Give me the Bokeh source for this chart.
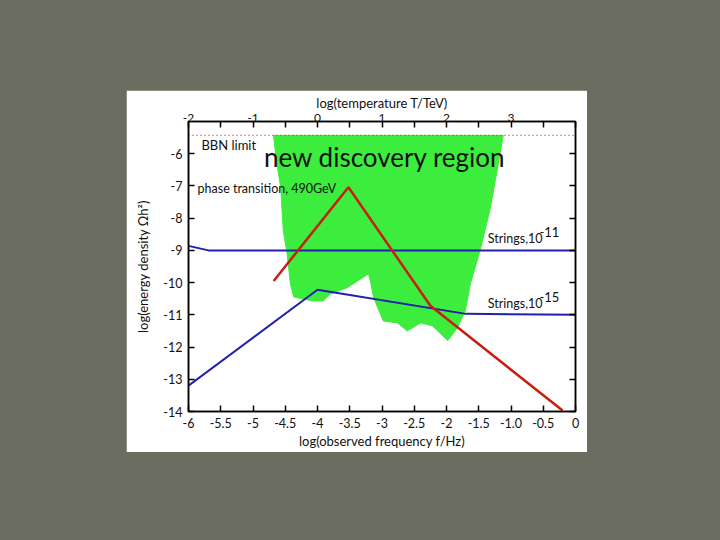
from bokeh.plotting import figure
from bokeh.models import Range1d, LinearAxis, FixedTicker, Label
from bokeh.layouts import column
from bokeh.embed import file_html
from bokeh.resources import INLINE

# ---- data ----
freq_ticks = [-6, -5.5, -5, -4.5, -4, -3.5, -3, -2.5, -2, -1.5, -1, -0.5, 0]
freq_tick_labels = ["-6", "-5.5", "-5", "-4.5", "-4", "-3.5", "-3", "-2.5", "-2",
                    "-1.5", "-1.0", "-0.5", "0"]
temp_ticks = [-2, -1, 0, 1, 2, 3]
temp_tick_labels = ["-2", "-1", "0", "1", "2", "3"]
temp_minor_ticks = [-1.5, -0.5, 0.5, 1.5, 2.5, 3.5, 4]
energy_ticks = [-14, -13, -12, -11, -10, -9, -8, -7, -6]
energy_tick_labels = ["-14", "-13", "-12", "-11", "-10", "-9", "-8", "-7", "-6"]

region_f = [-4.68, -4.65, -4.57, -4.53, -4.47, -4.42, -4.37, -4.25, -4.06, -3.91,
            -3.80, -3.54, -3.21, -3.18, -3.13, -2.98, -2.76, -2.61, -2.40, -2.22,
            -1.98, -1.83, -1.71, -1.63, -1.47, -1.32, -1.19, -1.12]
region_y = [-5.43, -6.02, -7.07, -8.40, -9.11, -10.04, -10.44, -10.50, -10.57, -10.57,
            -10.35, -10.16, -9.73, -9.95, -10.47, -11.19, -11.25, -11.50, -11.25, -11.34,
            -11.80, -11.40, -10.88, -10.04, -8.93, -7.69, -6.23, -5.43]

phase_f = [-4.68, -3.52, -2.25, -0.20]
phase_y = [-9.95, -7.04, -10.72, -13.97]

strings11_f = [-6.0, -5.69, 0.0]
strings11_y = [-8.86, -9.0, -9.0]

strings15_f = [-6.0, -4.0, -1.70, 0.0]
strings15_y = [-13.2, -10.22, -10.97, -11.0]

bbn_f = [-6.0, 0.0]
bbn_y = [-5.43, -5.43]

FONT = "Lato"
TXT = "#111111"

p = figure(width=461, height=362, output_backend="svg", toolbar_location=None,
           x_range=Range1d(-6, 0), y_range=Range1d(-14, -5),
           x_axis_location=None, y_axis_location=None,
           min_border_left=62, min_border_right=12, min_border_top=31, min_border_bottom=41)
p.background_fill_color = "white"
p.border_fill_color = "white"
p.outline_line_color = "black"
p.outline_line_width = 1.5
p.grid.visible = False
p.extra_x_ranges = {"temp": Range1d(-2, 4)}


def style_axis(ax, size="12.5px"):
    ax.major_tick_in = 6
    ax.major_tick_out = 0
    ax.minor_tick_in = 6
    ax.minor_tick_out = 0
    ax.axis_line_color = "black"
    ax.axis_line_width = 1.5
    ax.major_tick_line_color = "black"
    ax.major_tick_line_width = 1.5
    ax.minor_tick_line_color = "black"
    ax.minor_tick_line_width = 1.5
    ax.major_label_text_font = FONT
    ax.major_label_text_font_size = size
    ax.major_label_text_color = TXT
    ax.axis_label_text_font = FONT
    ax.axis_label_text_font_size = "13px"
    ax.axis_label_text_font_style = "normal"
    ax.axis_label_text_color = TXT


bottom = LinearAxis(ticker=FixedTicker(ticks=freq_ticks, minor_ticks=[]),
                    major_label_overrides={float(t): s for t, s in zip(freq_ticks, freq_tick_labels)},
                    axis_label="log(observed frequency f/Hz)")
style_axis(bottom)
bottom.major_label_standoff = 6
bottom.axis_label_standoff = 2
p.add_layout(bottom, "below")

top = LinearAxis(x_range_name="temp",
                 ticker=FixedTicker(ticks=temp_ticks, minor_ticks=temp_minor_ticks),
                 major_label_overrides={float(t): s for t, s in zip(temp_ticks, temp_tick_labels)},
                 axis_label="log(temperature T/TeV)")
style_axis(top, "12px")
top.major_label_standoff = 0
top.axis_label_standoff = 0
p.add_layout(top, "above")

left = LinearAxis(ticker=FixedTicker(ticks=energy_ticks, minor_ticks=[]),
                  major_label_overrides={float(t): s for t, s in zip(energy_ticks, energy_tick_labels)},
                  axis_label="log(energy density \u03a9h\u00b2)")
style_axis(left)
left.major_label_standoff = 6
left.axis_label_standoff = 9
p.add_layout(left, "left")

# right frame: tick marks only, no labels
right = LinearAxis(ticker=FixedTicker(ticks=[], minor_ticks=energy_ticks))
style_axis(right)
right.major_label_standoff = 0
p.add_layout(right, "right")

# discovery region
p.patch(region_f, region_y, fill_color="#3ded3d", line_color="#3ded3d", line_width=1)

# BBN limit
p.line(bbn_f, bbn_y, line_color="#cc3333", line_dash="1 3", line_width=1.2)

# strings
p.line(strings11_f, strings11_y, line_color="#2020aa", line_width=2)
p.line(strings15_f, strings15_y, line_color="#2020aa", line_width=2)

# phase transition
p.line(phase_f, phase_y, line_color="#c81e0e", line_width=2.5)

labels = [
    Label(x=-5.80, y=-5.73, text="BBN limit", text_font_size="13px"),
    Label(x=-4.83, y=-6.10, text="new discovery region", text_font_size="26px"),
    Label(x=-5.86, y=-7.09, text="phase transition, 490GeV", text_font_size="12.5px"),
    Label(x=-1.36, y=-8.64, text="Strings,10", text_font_size="12.5px"),
    Label(x=-0.56, y=-8.42, text="-11", text_font_size="13px"),
    Label(x=-1.36, y=-10.66, text="Strings,10", text_font_size="12.5px"),
    Label(x=-0.56, y=-10.46, text="-15", text_font_size="13px"),
]
for lb in labels:
    lb.text_font = FONT
    lb.text_color = TXT
    lb.text_baseline = "alphabetic"
    p.add_layout(lb)

p.margin = (90, 0, 0, 126)
layout = column(p, width=720, height=540, styles={"background-color": "#6c6d61"})

open("out.html", "w").write(file_html(layout, INLINE))
